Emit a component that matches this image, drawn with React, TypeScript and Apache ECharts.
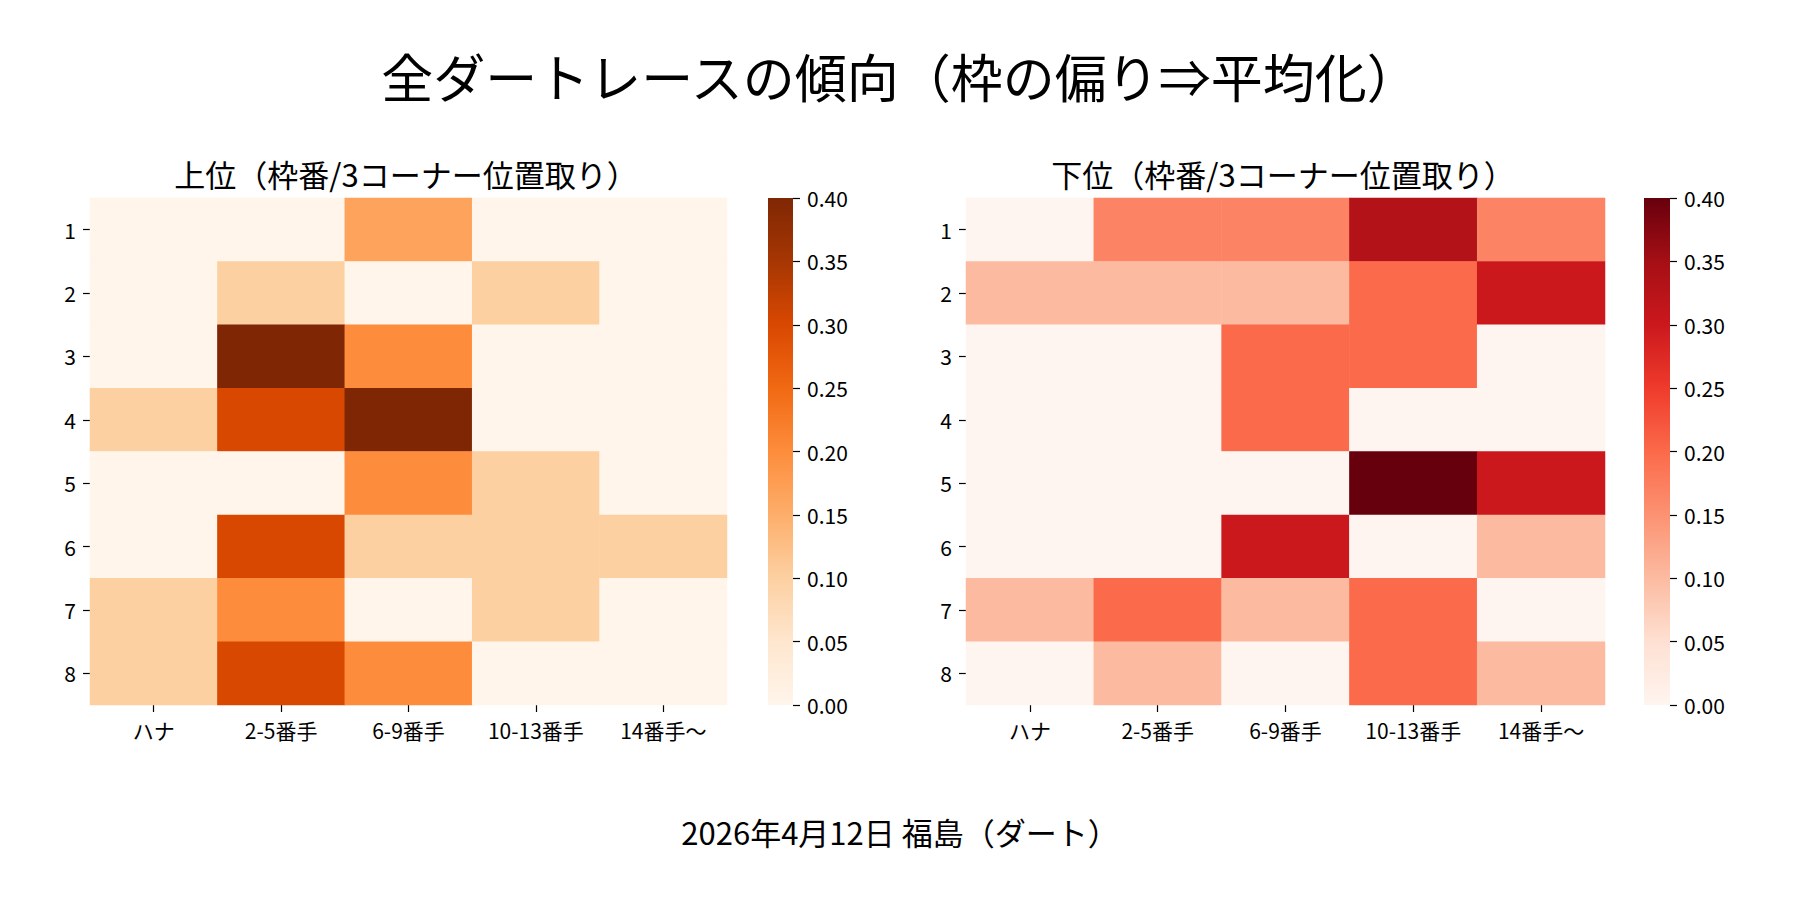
import React, { useEffect, useRef } from "react";
import * as echarts from "echarts";

const xCategories = ["ハナ", "2-5番手", "6-9番手", "10-13番手", "14番手〜"];
const yCategories = ["1", "2", "3", "4", "5", "6", "7", "8"];
const colorbarTicks = [0, 0.05, 0.1, 0.15, 0.2, 0.25, 0.3, 0.35, 0.4];

// rows = 枠番 1..8, columns = xCategories
const upperValues = [
  [0, 0, 0.167, 0, 0],
  [0, 0.1, 0, 0.1, 0],
  [0, 0.4, 0.2, 0, 0],
  [0.1, 0.3, 0.4, 0, 0],
  [0, 0, 0.2, 0.1, 0],
  [0, 0.3, 0.1, 0.1, 0.1],
  [0.1, 0.2, 0, 0.1, 0],
  [0.1, 0.3, 0.2, 0, 0],
];
const lowerValues = [
  [0, 0.167, 0.167, 0.333, 0.167],
  [0.1, 0.1, 0.1, 0.2, 0.3],
  [0, 0, 0.2, 0.2, 0],
  [0, 0, 0.2, 0, 0],
  [0, 0, 0, 0.4, 0.3],
  [0, 0, 0.3, 0, 0.1],
  [0.1, 0.2, 0.1, 0.2, 0],
  [0, 0.1, 0, 0.2, 0.1],
];

const mainTitle = "全ダートレースの傾向（枠の偏り⇒平均化）";
const leftTitle = "上位（枠番/3コーナー位置取り）";
const rightTitle = "下位（枠番/3コーナー位置取り）";
const footer = "2026年4月12日 福島（ダート）";

const ORANGES = ["#fff5eb", "#fee6ce", "#fdd0a2", "#fdae6b", "#fd8d3c", "#f16913", "#d94801", "#a63603", "#7f2704"];
const REDS = ["#fff5f0", "#fee0d2", "#fcbba1", "#fc9272", "#fb6a4a", "#ef3b2c", "#cb181d", "#a50f15", "#67000d"];

const FONT = "'Noto Sans CJK JP', 'Noto Sans', sans-serif";
const VMIN = colorbarTicks[0];
const VMAX = colorbarTicks[colorbarTicks.length - 1];

function toCells(rows: number[][]) {
  const out: [number, number, number][] = [];
  rows.forEach((row, yi) => row.forEach((v, xi) => out.push([xi, yi, v])));
  return out;
}

function gradient(cmap: string[]) {
  const n = cmap.length - 1;
  return new echarts.graphic.LinearGradient(
    0, 0, 0, 1,
    cmap.map((_, i) => ({ offset: i / n, color: cmap[n - i] }))
  );
}

export default function App() {
  const ref = useRef<HTMLDivElement>(null);
  useEffect(() => {
    if (!ref.current) return;
    const chart = echarts.init(ref.current, null, { renderer: "svg" });
    const tickStyle = { show: true, length: 7, lineStyle: { color: "#000", width: 1.2 } };
    const labelStyle = { color: "#000", fontSize: 21, fontFamily: FONT };

    const heatX = (gi: number) => ({
      type: "category",
      gridIndex: gi,
      data: xCategories,
      axisLine: { show: false },
      axisTick: { ...tickStyle, alignWithLabel: true },
      axisLabel: { ...labelStyle, margin: 14, interval: 0 },
      splitArea: { show: false },
      splitLine: { show: false },
    });
    const heatY = (gi: number) => ({
      type: "category",
      gridIndex: gi,
      data: yCategories,
      inverse: true,
      axisLine: { show: false },
      axisTick: { ...tickStyle, alignWithLabel: true },
      axisLabel: { ...labelStyle, margin: 14, interval: 0 },
      splitArea: { show: false },
      splitLine: { show: false },
    });
    const cbX = (gi: number) => ({
      type: "category",
      gridIndex: gi,
      data: ["cb"],
      show: false,
    });
    const cbY = (gi: number) => ({
      type: "value",
      gridIndex: gi,
      position: "right",
      min: VMIN,
      max: VMAX,
      interval: 0.05,
      axisLine: { show: false },
      axisTick: tickStyle,
      axisLabel: { ...labelStyle, margin: 14, formatter: (v: number) => v.toFixed(2) },
      splitLine: { show: false },
    });

    const option: any = {
      animation: false,
      backgroundColor: "#fff",
      textStyle: { fontFamily: FONT },
      grid: [
        { left: 90, top: 198, width: 637, height: 507 },
        { left: 768, top: 198, width: 25, height: 507 },
        { left: 966, top: 198, width: 639, height: 507 },
        { left: 1644, top: 198, width: 26, height: 507 },
      ],
      xAxis: [heatX(0), cbX(1), heatX(2), cbX(3)],
      yAxis: [heatY(0), cbY(1), heatY(2), cbY(3)],
      visualMap: [
        { type: "continuous", show: false, seriesIndex: 0, dimension: 2, min: VMIN, max: VMAX, inRange: { color: ORANGES } },
        { type: "continuous", show: false, seriesIndex: 2, dimension: 2, min: VMIN, max: VMAX, inRange: { color: REDS } },
      ],
      series: [
        {
          type: "heatmap",
          xAxisIndex: 0,
          yAxisIndex: 0,
          data: toCells(upperValues),
          itemStyle: { borderWidth: 0 },
          emphasis: { disabled: true },
          silent: true,
        },
        {
          type: "bar",
          xAxisIndex: 1,
          yAxisIndex: 1,
          data: [VMAX],
          barWidth: "100%",
          barCategoryGap: "0%",
          itemStyle: { color: gradient(ORANGES) },
          silent: true,
        },
        {
          type: "heatmap",
          xAxisIndex: 2,
          yAxisIndex: 2,
          data: toCells(lowerValues),
          itemStyle: { borderWidth: 0 },
          emphasis: { disabled: true },
          silent: true,
        },
        {
          type: "bar",
          xAxisIndex: 3,
          yAxisIndex: 3,
          data: [VMAX],
          barWidth: "100%",
          barCategoryGap: "0%",
          itemStyle: { color: gradient(REDS) },
          silent: true,
        },
      ],
      graphic: [
        {
          type: "text", x: 900, y: 75,
          style: { text: mainTitle, fill: "#000", font: `52px ${FONT}`, textAlign: "center", textVerticalAlign: "middle" },
        },
        {
          type: "text", x: 406, y: 173,
          style: { text: leftTitle, fill: "#000", font: `31px ${FONT}`, textAlign: "center", textVerticalAlign: "middle" },
        },
        {
          type: "text", x: 1283, y: 173,
          style: { text: rightTitle, fill: "#000", font: `31px ${FONT}`, textAlign: "center", textVerticalAlign: "middle" },
        },
        {
          type: "text", x: 900, y: 831,
          style: { text: footer, fill: "#000", font: `31px ${FONT}`, textAlign: "center", textVerticalAlign: "middle" },
        },
      ],
    };
    chart.setOption(option);
    return () => chart.dispose();
  }, []);
  return (
    <div
      ref={ref}
      style={{ position: "fixed", left: 0, top: 0, width: 1800, height: 900, background: "#fff" }}
    />
  );
}
